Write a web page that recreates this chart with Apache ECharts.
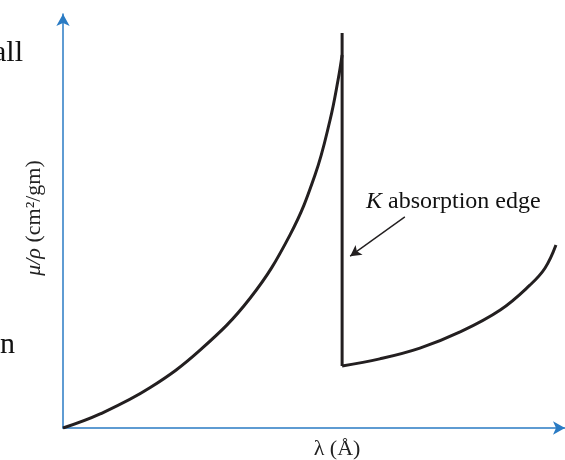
<!DOCTYPE html>
<html>
<head>
<meta charset="utf-8">
<script src="https://cdn.jsdelivr.net/npm/echarts@6/dist/echarts.min.js"></script>
<style>html,body{margin:0;padding:0;background:#fff;}#c{width:565px;height:460px;}</style>
</head>
<body>
<div id="c"></div>
<script>
// wavelength (arbitrary units) vs mass absorption coefficient (arbitrary units)
var curveBelowEdge = [[0,0],[0.74,0.34],[1.73,0.97],[2.73,1.88],[3.73,3.14],[4.52,4.66],[5.02,6.11],[5.32,7.44],[5.48,8.41],[5.56,9.01]];
var edgeLine = [[5.56,9.54],[5.56,1.50]];
var curveAboveEdge = [[5.56,1.50],[6.31,1.67],[7.11,1.93],[7.91,2.32],[8.71,2.85],[9.30,3.45],[9.60,3.86],[9.82,4.42]];
var annotationArrow = [[6.81,5.10],[5.72,4.15]];

var FONT = '"Liberation Serif", "DejaVu Serif", serif';
var AXIS_COLOR = '#2a7bc4';
var LINE_COLOR = '#231f20';

var chart = echarts.init(document.getElementById('c'));
chart.setOption({
  animation: false,
  grid: {left: 63, right: 0, top: 14, bottom: 32},
  xAxis: {
    type: 'value', min: 0, max: 10,
    axisLine: {show: true, symbol: ['none','arrow'], symbolSize: [10,12], lineStyle: {color: AXIS_COLOR, width: 1.5}},
    axisTick: {show: false}, axisLabel: {show: false}, splitLine: {show: false}
  },
  yAxis: {
    type: 'value', min: 0, max: 10,
    axisLine: {show: true, symbol: ['none','arrow'], symbolSize: [10,12], lineStyle: {color: AXIS_COLOR, width: 1.5}},
    axisTick: {show: false}, axisLabel: {show: false}, splitLine: {show: false}
  },
  series: [
    {type: 'line', data: curveBelowEdge, smooth: 0.4, symbol: 'none', lineStyle: {color: LINE_COLOR, width: 3}},
    {type: 'line', data: edgeLine, symbol: 'none', lineStyle: {color: LINE_COLOR, width: 3}},
    {type: 'line', data: curveAboveEdge, smooth: 0.4, symbol: 'none', lineStyle: {color: LINE_COLOR, width: 3},
      markLine: {
        silent: true, symbol: ['none','arrow'], symbolSize: [9,11],
        label: {show: false},
        lineStyle: {color: LINE_COLOR, width: 1.4, type: 'solid'},
        data: [[{coord: annotationArrow[0]}, {coord: annotationArrow[1]}]]
      }}
  ],
  graphic: [
    {type: 'text', left: -7, top: 38, style: {text: 'all', font: '30px ' + FONT, fill: '#111'}},
    {type: 'text', left: 0, top: 330, style: {text: 'n', font: '30px ' + FONT, fill: '#111'}},
    {type: 'text', x: 34, y: 218, rotation: Math.PI/2,
      style: {text: '{i|μ/ρ} (cm²/gm)', font: '22px ' + FONT, fill: '#222', align: 'center', verticalAlign: 'middle',
        rich: {i: {font: 'italic 22px ' + FONT}}}},
    {type: 'text', x: 337, y: 449,
      style: {text: 'λ (Å)', font: '22px ' + FONT, fill: '#222', align: 'center', verticalAlign: 'middle'}},
    {type: 'text', x: 366, y: 202,
      style: {text: '{i|K} absorption edge', font: '24px ' + FONT, fill: '#111', align: 'left', verticalAlign: 'middle',
        rich: {i: {font: 'italic 24px ' + FONT}}}}
  ]
});
</script>
</body>
</html>
